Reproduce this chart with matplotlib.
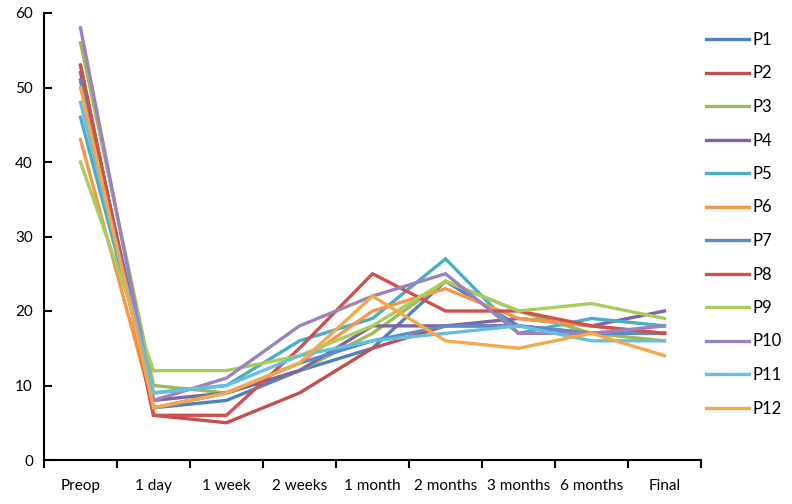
import matplotlib
matplotlib.use("Agg")
import matplotlib.pyplot as plt
import numpy as np

categories = ["Preop", "1 day", "1 week", "2 weeks", "1 month", "2 months", "3 months", "6 months", "Final"]
series_names = ["P1", "P2", "P3", "P4", "P5", "P6", "P7", "P8", "P9", "P10", "P11", "P12"]

P1 = [51, 7, 8, 12, 15, 24, 18, 17, 17]
P2 = [53, 6, 5, 9, 15, 18, 18, 17, 17]
P3 = [56, 10, 9, 12, 17, 24, 20, 17, 16]
P4 = [52, 8, 9, 12, 18, 18, 19, 18, 20]
P5 = [46, 9, 10, 16, 19, 27, 17, 19, 18]
P6 = [43, 7, 9, 13, 20, 23, 19, 18, 17]
P7 = [51, 7, 9, 13, 16, 18, 18, 17, 17]
P8 = [53, 6, 6, 15, 25, 20, 20, 18, 17]
P9 = [40, 12, 12, 14, 18, 24, 20, 21, 19]
P10 = [58, 8, 11, 18, 22, 25, 17, 17, 18]
P11 = [48, 9, 10, 14, 16, 17, 18, 16, 16]
P12 = [50, 7, 9, 13, 22, 16, 15, 17, 14]
series_values = [P1, P2, P3, P4, P5, P6, P7, P8, P9, P10, P11, P12]

colors = ["#4F81BD", "#C0504D", "#9BBB59", "#8064A2", "#4BACC6", "#F79646",
          "#5B8CC8", "#D0504E", "#A9CC5C", "#9B82BE", "#67BEDD", "#F5A84B"]

plt.rcParams['font.family'] = ['Lato', 'DejaVu Sans']

fig = plt.figure(figsize=(7.92, 5.04), dpi=100)
W, H = 792, 504
left, right, top, bottom = 44, 701, 13, 460
ax = fig.add_axes([left / W, 1 - bottom / H, (right - left) / W, (bottom - top) / H])

x = np.arange(len(categories))
for name, vals, c in zip(series_names, series_values, colors):
    ax.plot(x, vals, color=c, lw=2.4, label=name, solid_joinstyle='miter')

ax.set_xlim(-0.5, len(categories) - 0.5)
ax.set_ylim(0, 60)
ax.set_yticks(range(0, 61, 10))
ax.set_xticks(x)
ax.set_xticklabels(categories)
ax.set_xticks(np.arange(-0.5, len(categories), 1.0), minor=True)
ax.tick_params(axis='x', which='major', length=0, labelsize=11, pad=14)
ax.tick_params(axis='x', which='minor', length=6, width=1.5, direction='out')
ax.tick_params(axis='y', which='major', length=6, width=1.5, direction='in', labelsize=11, pad=8)
for s in ['top', 'right']:
    ax.spines[s].set_visible(False)
ax.spines['left'].set_linewidth(1.5)
ax.spines['bottom'].set_linewidth(1.5)

leg = ax.legend(loc='upper left', bbox_to_anchor=(706 / W, 1 - 32 / H), bbox_transform=fig.transFigure,
                frameon=False, fontsize=12, handlelength=2.6, labelspacing=1.05, handletextpad=0.2,
                borderaxespad=0, borderpad=0)
for l in leg.get_lines():
    l.set_linewidth(2.4)

fig.savefig("out.png", dpi=100)
